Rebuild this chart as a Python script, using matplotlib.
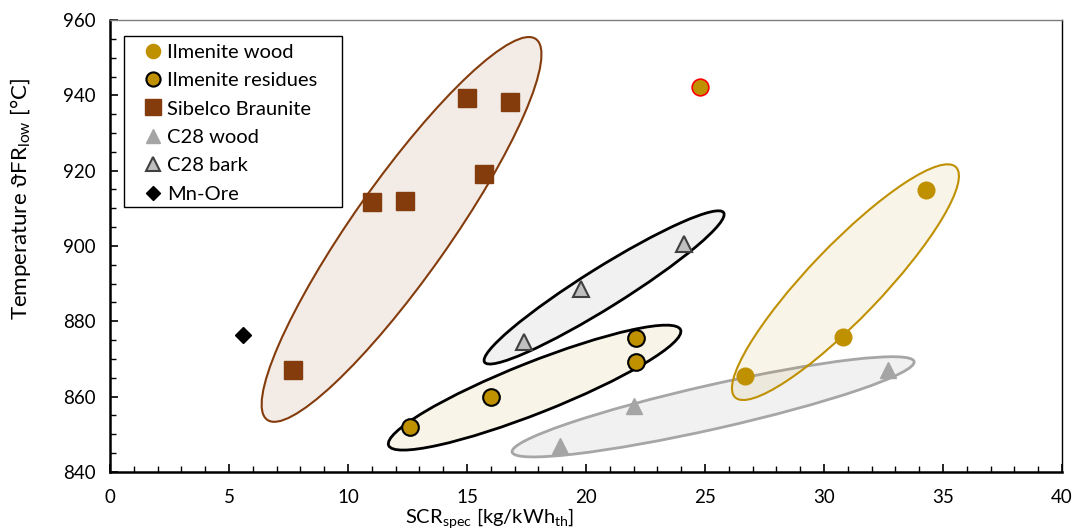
import matplotlib
matplotlib.use("Agg")
import matplotlib.pyplot as plt
from matplotlib.patches import Ellipse, Rectangle
from matplotlib.transforms import IdentityTransform, ScaledTranslation
from matplotlib.ticker import MultipleLocator

plt.rcParams['font.family'] = ['Lato', 'DejaVu Sans']

# Daten
ilm_wood_x = [26.7, 30.8, 34.3]
ilm_wood_y = [865.5, 875.8, 914.9]
ilm_outlier_x = [24.8]
ilm_outlier_y = [942.2]
ilm_res_x = [12.6, 16.0, 22.1, 22.1]
ilm_res_y = [851.9, 859.9, 875.6, 869.2]
braunite_x = [7.7, 11.0, 12.4, 15.0, 16.8, 15.7]
braunite_y = [867.1, 911.7, 912.0, 939.3, 938.2, 919.1]
c28_wood_x = [18.9, 22.0, 32.7]
c28_wood_y = [846.9, 857.5, 867.1]
c28_bark_x = [17.4, 19.8, 24.1]
c28_bark_y = [874.5, 888.6, 900.5]
mn_ore_x = [5.6]
mn_ore_y = [876.5]

# Ellipsen: Mittelpunkt (Daten), Breite/Hoehe in Pixel, Winkel
ell_centers = [(12.25, 904.4), (17.84, 862.4), (20.76, 889.0), (25.34, 857.3), (30.90, 890.4)]
ell_sizes = [(466, 96, 54.8), (314, 51, 21.6), (282, 40, 32.0), (412, 44, 12.7), (319, 73, 46.2)]
ell_edges = ['#843C0C', 'black', 'black', '#A6A6A6', '#BF9000']
ell_faces = [(0.52, 0.24, 0.05, 0.10), (0.75, 0.56, 0.0, 0.09), (0.6, 0.6, 0.6, 0.13),
             (0.6, 0.6, 0.6, 0.13), (0.75, 0.56, 0.0, 0.09)]
ell_lw = [1.5, 2.0, 2.0, 2.0, 1.5]

fig = plt.figure(figsize=(10.72, 5.32), dpi=100)
ax = fig.add_axes([0.1026, 0.1128, 0.8881, 0.8496])
ax.set_xlim(0, 40)
ax.set_ylim(840, 960)

for (cx, cy), (w, h, ang), ec, fc, lw in zip(ell_centers, ell_sizes, ell_edges, ell_faces, ell_lw):
    tr = IdentityTransform() + ScaledTranslation(cx, cy, ax.transData)
    e = Ellipse((0, 0), w, h, angle=ang, transform=tr, facecolor=fc, edgecolor=ec, lw=lw, zorder=1)
    ax.add_patch(e)

ms = 12
ax.plot(ilm_wood_x, ilm_wood_y, 'o', color='#BF9000', ms=ms, mec='#BF9000', label='Ilmenite wood', zorder=3)
ax.plot(ilm_res_x, ilm_res_y, 'o', color='#BF9000', ms=ms, mec='black', mew=1.5, label='Ilmenite residues', zorder=3)
ax.plot(braunite_x, braunite_y, 's', color='#843C0C', ms=13, mec='#843C0C', label='Sibelco Braunite', zorder=3)
ax.plot(c28_wood_x, c28_wood_y, '^', color='#A5A5A5', ms=ms, mec='#A5A5A5', label='C28 wood', zorder=3)
ax.plot(c28_bark_x, c28_bark_y, '^', color='#BFBFBF', ms=ms, mec='#404040', mew=1.5, label='C28 bark', zorder=3)
ax.plot(mn_ore_x, mn_ore_y, 'D', color='black', ms=8, label='Mn-Ore', zorder=3)
ax.plot(ilm_outlier_x, ilm_outlier_y, 'o', color='#BF9000', ms=ms, mec='red', mew=1.2, zorder=3)

ax.xaxis.set_major_locator(MultipleLocator(5))
ax.xaxis.set_minor_locator(MultipleLocator(1))
ax.yaxis.set_major_locator(MultipleLocator(20))
ax.yaxis.set_minor_locator(MultipleLocator(5))
ax.tick_params(which='both', direction='in', labelsize=13.5, colors='black', pad=10)
ax.tick_params(which='major', length=6, width=1.2)
ax.tick_params(which='minor', length=4, width=1)
ax.tick_params(axis='x', pad=12)

for s in ['left', 'bottom']:
    ax.spines[s].set_linewidth(1.8)
for s in ['top', 'right']:
    ax.spines[s].set_linewidth(1.0)
ax.spines['top'].set_color('#7f7f7f')

ax.set_xlabel('SCR$_{\\mathregular{spec}}$ [kg/kWh$_{\\mathregular{th}}$]', fontsize=14.5)
ax.xaxis.set_label_coords(0.399, -0.076)
ax.set_ylabel('Temperature ϑFR$_{\\mathregular{low}}$ [°C]', fontsize=16)
ax.yaxis.set_label_coords(-0.081, 0.605)

# Legendenrahmen separat, damit die Groesse stimmt
ax.add_patch(Rectangle((0.0147, 0.587), 0.2287, 0.3776, transform=ax.transAxes,
                       facecolor='white', edgecolor='black', lw=1.0, zorder=4))
leg = ax.legend(loc='upper left', bbox_to_anchor=(0.0347, 0.9476), borderaxespad=0,
                fontsize=14.5, frameon=False, markerscale=0.85,
                handletextpad=0.2, labelspacing=0.56, handlelength=1.0, borderpad=0)
leg.set_zorder(5)

fig.savefig('out.png', dpi=100)
